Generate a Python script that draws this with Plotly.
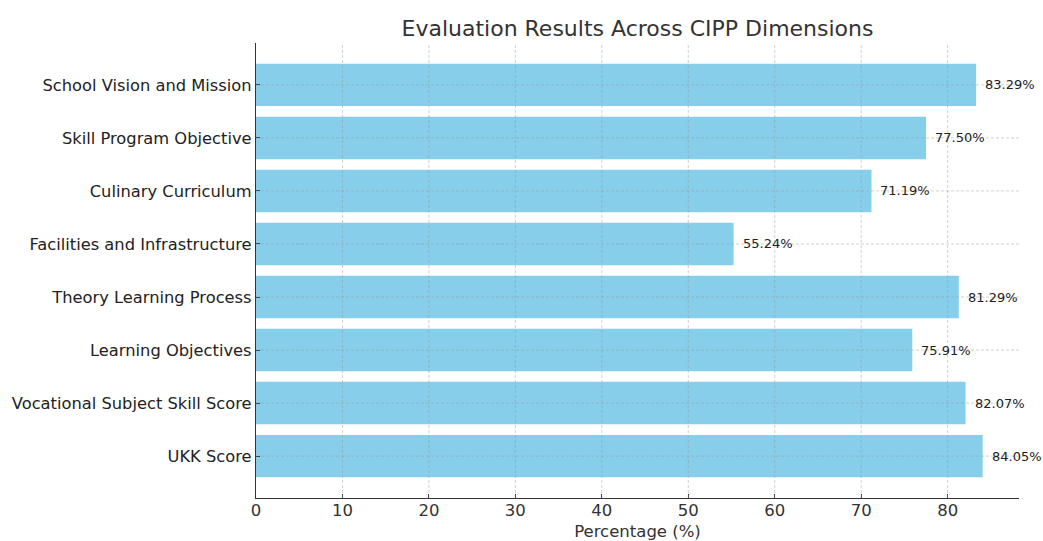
import plotly.graph_objects as go

categories = [
    "School Vision and Mission",
    "Skill Program Objective",
    "Culinary Curriculum",
    "Facilities and Infrastructure",
    "Theory Learning Process",
    "Learning Objectives",
    "Vocational Subject Skill Score",
    "UKK Score",
]
values = [83.29, 77.50, 71.19, 55.24, 81.29, 75.91, 82.07, 84.05]
labels = [f"{v:.2f}%" for v in values]
x_ticks = [0, 10, 20, 30, 40, 50, 60, 70, 80]

font = "DejaVu Sans, Arial, sans-serif"
grid_col = "rgba(150,150,150,0.45)"
grid_dash = "3px,2px"

fig = go.Figure()
fig.add_trace(go.Bar(
    x=values, y=categories, orientation="h",
    marker=dict(color="#87CEEB", line=dict(width=0)),
    hoverinfo="x+y",
))

for c, v, t in zip(categories, values, labels):
    fig.add_annotation(x=v, y=c, text=t, showarrow=False, xanchor="left",
                       xshift=7, font=dict(family=font, size=13, color="#222"))

# grid lines drawn above the bars (as in the reference)
for xv in x_ticks[1:]:
    fig.add_shape(type="line", xref="x", yref="paper", x0=xv, x1=xv, y0=0, y1=1,
                  line=dict(color=grid_col, width=1, dash=grid_dash), layer="above")
for c in categories:
    fig.add_shape(type="line", xref="paper", yref="y", x0=0, x1=1, y0=c, y1=c,
                  line=dict(color=grid_col, width=1, dash=grid_dash), layer="above")

n = len(categories)
fig.update_layout(
    width=1043, height=541,
    margin=dict(l=256, r=24, t=43, b=43, autoexpand=False),
    paper_bgcolor="white", plot_bgcolor="white",
    bargap=0.2,
    showlegend=False,
    font=dict(family=font, color="#333"),
    title=dict(text="Evaluation Results Across CIPP Dimensions",
               x=0.5, xref="paper", xanchor="center",
               y=1 - 28 / 541, yref="container", yanchor="middle",
               font=dict(family=font, size=22, color="#333")),
)
fig.update_xaxes(
    range=[0, max(values) * 1.05],
    tickvals=x_ticks,
    ticks="inside", ticklen=4, tickcolor="#333", tickwidth=1,
    ticklabelstandoff=-3,
    showline=True, linecolor="#333", linewidth=1.3,
    showgrid=False,
    zeroline=False, automargin=False,
    tickfont=dict(family=font, size=16.5, color="#333"),
    title=dict(text="Percentage (%)", font=dict(family=font, size=16.5, color="#333"), standoff=6),
)
fig.update_yaxes(
    type="category",
    categoryorder="array", categoryarray=categories,
    range=[n - 1 + 0.79, -0.79],
    ticks="inside", ticklen=4, tickcolor="#333", tickwidth=1,
    ticklabelstandoff=0,
    showline=True, linecolor="#333", linewidth=1.3,
    showgrid=False,
    zeroline=False, automargin=False,
    tickfont=dict(family=font, size=16.3, color="#222"),
)

fig.write_html("out.html", config={"displayModeBar": False},
               post_script="document.body.style.margin='0';document.body.style.overflow='hidden';")
